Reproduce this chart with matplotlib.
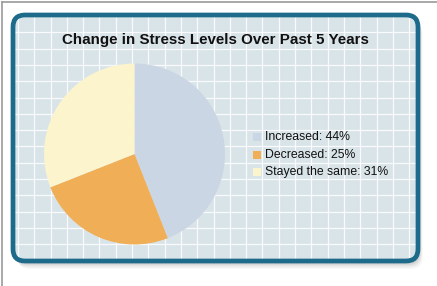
import matplotlib
matplotlib.use("Agg")
import numpy as np
from matplotlib import pyplot as plt
from matplotlib.patches import FancyBboxPatch, Rectangle

# data
labels = ["Increased", "Decreased", "Stayed the same"]
values = [44, 25, 31]
colors = ["#cbd6e4", "#f0ae57", "#fbf4cc"]
title = "Change in Stress Levels Over Past 5 Years"

W, H = 437, 286
fig = plt.figure(figsize=(W / 100, H / 100), dpi=100)
ax = fig.add_axes([0, 0, 1, 1])
ax.set_xlim(0, W)
ax.set_ylim(0, H)
ax.axis("off")

def Y(y):
    # pixel row (from top) -> data y
    return H - y

# outer grey frame (top and left)
ax.plot([1.5, W], [Y(2), Y(2)], color="#9a9a9a", lw=1.2)
ax.plot([1.5, 1.5], [Y(2), 0], color="#9a9a9a", lw=1.2)

# panel geometry
x0, y0, x1, y1 = 13, 15, 418, 261
r = 12

# soft shadow
for i, a in enumerate([0.04, 0.05, 0.07, 0.09, 0.10]):
    off = 8 - i * 1.4
    sh = FancyBboxPatch((x0 + off * 0.6, Y(y1) - off), x1 - x0, y1 - y0,
                        boxstyle=f"round,pad=0,rounding_size={r}",
                        fc="#505050", ec="none", alpha=a, zorder=1)
    ax.add_patch(sh)

panel = FancyBboxPatch((x0, Y(y1)), x1 - x0, y1 - y0,
                       boxstyle=f"round,pad=0,rounding_size={r}",
                       fc="#d9e4e9", ec="none", zorder=2)
ax.add_patch(panel)

# grid lines
step = 16.3
for gx in np.arange(x0 + 5, x1, step):
    ln = ax.plot([gx, gx], [Y(y1), Y(y0)], color="white", lw=0.9,
                 alpha=0.85, zorder=3)[0]
    ln.set_clip_path(panel)
for gy in np.arange(y0 + 1, y1, step):
    ln = ax.plot([x0, x1], [Y(gy), Y(gy)], color="white", lw=0.9,
                 alpha=0.85, zorder=3)[0]
    ln.set_clip_path(panel)

border = FancyBboxPatch((x0, Y(y1)), x1 - x0, y1 - y0,
                        boxstyle=f"round,pad=0,rounding_size={r}",
                        fc="none", ec="#1d6a8b", lw=3.4, zorder=6)
ax.add_patch(border)

# title
ax.text(215, Y(40), title, ha="center", va="center", fontsize=10.9,
        fontweight="bold", family="Liberation Sans", color="#111111", zorder=7)

# pie
ax.pie(values, colors=colors, startangle=90, counterclock=False,
       center=(134.5, Y(154)), radius=90.5, frame=True,
       wedgeprops=dict(linewidth=0, zorder=5))
ax.set_xlim(0, W)
ax.set_ylim(0, H)
ax.axis("off")

# legend
for i, (lab, v, c) in enumerate(zip(labels, values, colors)):
    yy = 137 + i * 17.7
    ax.add_patch(Rectangle((253, Y(yy) - 4), 8, 8, fc=c, ec="none", zorder=7))
    ax.text(265, Y(yy), f"{lab}: {v}%", ha="left", va="center", fontsize=8.8,
            family="Liberation Sans", color="#111111", zorder=7)

fig.savefig("out.png", dpi=100)
